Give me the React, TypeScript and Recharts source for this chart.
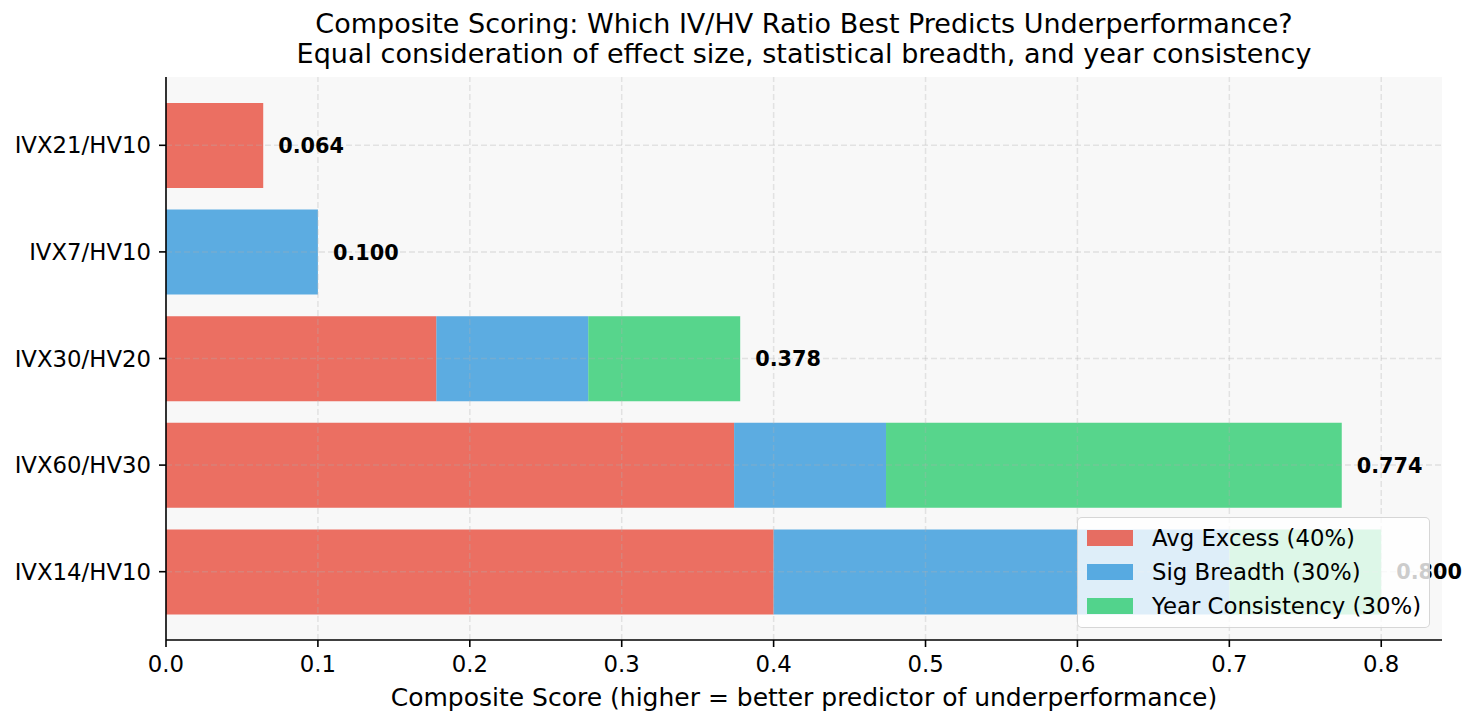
import React from 'react';
import {
  BarChart,
  Bar,
  XAxis,
  YAxis,
  Legend,
  ReferenceLine,
  LabelList,
  CartesianGrid,
} from 'recharts';

// ratios, top to bottom as drawn
const ratios = ['IVX21/HV10', 'IVX7/HV10', 'IVX30/HV20', 'IVX60/HV30', 'IVX14/HV10'];
const avgExcess = [0.064, 0, 0.178, 0.374, 0.4];
const sigBreadth = [0, 0.1, 0.1, 0.1, 0.3];
const yearConsistency = [0, 0, 0.1, 0.3, 0.1];
const xTicks = [0, 0.1, 0.2, 0.3, 0.4, 0.5, 0.6, 0.7, 0.8];

const chartData = ratios.map((name, i) => ({
  name,
  avg: avgExcess[i],
  sig: sigBreadth[i],
  year: yearConsistency[i],
}));

const FONT = '"DejaVu Sans", sans-serif';
const gridStroke = '#b0b0b0';

// which segment ends the stack for a row (zero-width bars get no label)
const lastKey = (name: string) => {
  const i = ratios.indexOf(name);
  if (yearConsistency[i] > 0) return 'year';
  if (sigBreadth[i] > 0) return 'sig';
  return 'avg';
};

const totalLabel = (key: string) => (props: any) => {
  const { x, y, width, height, value } = props;
  if (lastKey(String(value)) !== key) return null;
  const i = ratios.indexOf(String(value));
  const total = avgExcess[i] + sigBreadth[i] + yearConsistency[i];
  return (
    <text
      x={Number(x) + Number(width) + 15}
      y={Number(y) + Number(height) / 2}
      dy="0.36em"
      textAnchor="start"
      fontFamily={FONT}
      fontSize={20.8}
      fontWeight="bold"
      fill="#000"
    >
      {total.toFixed(3)}
    </text>
  );
};

const LegendBox = (props: any) => {
  const { payload } = props;
  return (
    <div
      style={{
        boxSizing: 'border-box',
        width: 353,
        height: 111,
        background: 'rgba(255,255,255,0.8)',
        border: '1.5px solid rgba(204,204,204,0.8)',
        borderRadius: 5,
        paddingTop: 3,
        fontFamily: FONT,
        fontSize: 22.8,
        color: '#000',
      }}
    >
      {(payload || []).map((entry: any) => (
        <div key={entry.value} style={{ height: 34, display: 'flex', alignItems: 'center' }}>
          <span
            style={{
              display: 'inline-block',
              marginLeft: 9,
              width: 46,
              height: 16,
              background: entry.color,
              opacity: 0.8,
            }}
          />
          <span style={{ marginLeft: 19, whiteSpace: 'nowrap' }}>{entry.value}</span>
        </div>
      ))}
    </div>
  );
};

export default function App() {
  return (
    <div style={{ position: 'absolute', left: 0, top: 0, width: 1476, height: 725, background: '#fff', fontFamily: FONT }}>
      <div
        style={{
          position: 'absolute',
          left: 166,
          width: 1276,
          top: 9,
          textAlign: 'center',
          fontSize: 27,
          lineHeight: '30px',
          color: '#000',
          whiteSpace: 'nowrap',
        }}
      >
        Composite Scoring: Which IV/HV Ratio Best Predicts Underperformance?
        <br />
        Equal consideration of effect size, statistical breadth, and year consistency
      </div>
      <BarChart
        width={1476}
        height={725}
        data={chartData}
        layout="vertical"
        margin={{ top: 77, right: 34, bottom: 15, left: 0 }}
        barSize={85}
      >
        <CartesianGrid fill="#f8f8f8" horizontal={false} vertical={false} />
        <XAxis
          type="number"
          domain={[0, 0.84]}
          ticks={xTicks}
          tickFormatter={(v: number) => v.toFixed(1)}
          height={70}
          tickSize={7}
          tickMargin={9}
          tick={{ fontSize: 22.8, fill: '#000', fontFamily: FONT }}
          tickLine={{ stroke: '#000', strokeWidth: 1.6 }}
          axisLine={{ stroke: '#000', strokeWidth: 1.6 }}
          label={{
            value: 'Composite Score (higher = better predictor of underperformance)',
            position: 'insideBottom',
            offset: 4,
            fontSize: 25,
            fill: '#000',
            fontFamily: FONT,
          }}
        />
        <XAxis
          xAxisId="top"
          orientation="top"
          type="number"
          domain={[0, 0.84]}
          height={0}
          tick={false}
          tickLine={false}
          axisLine={{ stroke: '#000', strokeWidth: 1.6 }}
        />
        <YAxis
          type="category"
          dataKey="name"
          width={166}
          padding={{ top: 15, bottom: 15 }}
          tickSize={7}
          tickMargin={8}
          tick={{ fontSize: 22.8, fill: '#000', fontFamily: FONT }}
          tickLine={{ stroke: '#000', strokeWidth: 1.6 }}
          axisLine={{ stroke: '#000', strokeWidth: 1.6 }}
        />
        <YAxis
          yAxisId="right"
          orientation="right"
          type="number"
          domain={[0, 1]}
          width={0}
          tick={false}
          tickLine={false}
          axisLine={{ stroke: '#000', strokeWidth: 1.6 }}
        />
        <Bar dataKey="avg" stackId="s" name="Avg Excess (40%)" fill="#e74c3c" fillOpacity={0.8} isAnimationActive={false}>
          <LabelList dataKey="name" content={totalLabel('avg')} />
        </Bar>
        <Bar dataKey="sig" stackId="s" name="Sig Breadth (30%)" fill="#3498db" fillOpacity={0.8} isAnimationActive={false}>
          <LabelList dataKey="name" content={totalLabel('sig')} />
        </Bar>
        <Bar dataKey="year" stackId="s" name="Year Consistency (30%)" fill="#2ecc71" fillOpacity={0.8} isAnimationActive={false}>
          <LabelList dataKey="name" content={totalLabel('year')} />
        </Bar>
        {xTicks.slice(1).map((t) => (
          <ReferenceLine key={t} x={t} stroke={gridStroke} strokeOpacity={0.3} strokeWidth={1.5} strokeDasharray="6 3" />
        ))}
        {ratios.map((r) => (
          <ReferenceLine key={r} y={r} stroke={gridStroke} strokeOpacity={0.3} strokeWidth={1.5} strokeDasharray="6 3" />
        ))}
        <Legend
          layout="vertical"
          align="center"
          verticalAlign="middle"
          content={LegendBox}
          wrapperStyle={{ left: 1077, top: 517, width: 353, height: 111 }}
        />
      </BarChart>
    </div>
  );
}
